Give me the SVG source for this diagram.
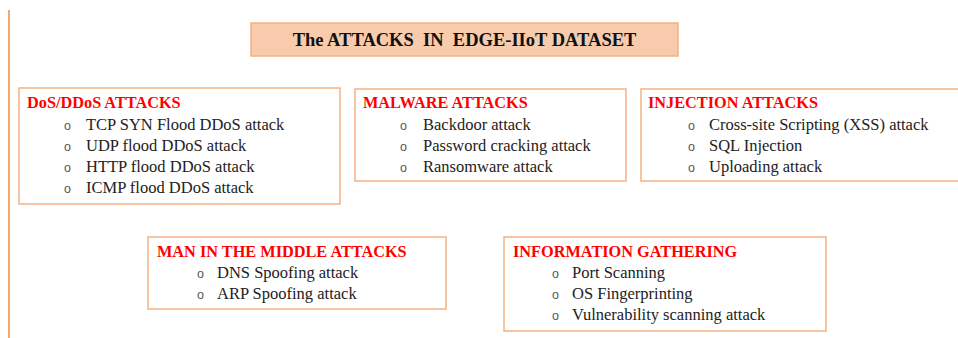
<svg xmlns="http://www.w3.org/2000/svg" width="958" height="338" viewBox="0 0 958 338">
<style>
.box{fill:#ffffff;stroke:#f4b183;stroke-width:1.5}
.title{font-family:"Liberation Serif",serif;font-weight:bold;font-size:18.5px;fill:#111;white-space:pre}
.hdr{font-family:"Liberation Serif",serif;font-weight:bold;font-size:16.3px;fill:#ff0000}
.item{font-family:"Liberation Serif",serif;font-size:16.5px;fill:#222}
.bul{font-family:"Liberation Sans",sans-serif;font-size:12.5px;fill:#555}
</style>
<rect width="958" height="338" fill="#ffffff"/>
<g id="connectors">
<line x1="9" y1="10" x2="9" y2="338" stroke="#f08a3c" stroke-width="1.5"/>
</g>
<g id="title">
<rect x="251" y="23" width="427" height="33" fill="#f8cbad" stroke="#f4b183" stroke-width="1.5"/>
<text class="title" x="464.5" y="45.5" text-anchor="middle" xml:space="preserve">The ATTACKS  IN  EDGE-IIoT DATASET</text>
</g>
<g id="dos">
<rect class="box" x="19" y="88" width="321" height="116"/>
<text class="hdr" x="27" y="108">DoS/DDoS ATTACKS</text>
<text class="bul" x="64" y="130">o</text><text class="item" x="86" y="130">TCP SYN Flood DDoS attack</text>
<text class="bul" x="64" y="151">o</text><text class="item" x="86" y="151">UDP flood  DDoS attack</text>
<text class="bul" x="64" y="172">o</text><text class="item" x="86" y="172">HTTP flood  DDoS attack</text>
<text class="bul" x="64" y="193">o</text><text class="item" x="86" y="193">ICMP flood  DDoS attack</text>
</g>
<g id="malware">
<rect class="box" x="355" y="89" width="271" height="92"/>
<text class="hdr" x="363" y="108">MALWARE ATTACKS</text>
<text class="bul" x="400" y="130">o</text><text class="item" x="423" y="130">Backdoor attack</text>
<text class="bul" x="400" y="151">o</text><text class="item" x="423" y="151">Password cracking attack</text>
<text class="bul" x="400" y="172">o</text><text class="item" x="423" y="172">Ransomware attack</text>
</g>
<g id="injection">
<rect class="box" x="641" y="89" width="330" height="92"/>
<text class="hdr" x="648" y="108">INJECTION ATTACKS</text>
<text class="bul" x="688" y="130">o</text><text class="item" x="709" y="130">Cross-site Scripting (XSS) attack</text>
<text class="bul" x="688" y="151">o</text><text class="item" x="709" y="151">SQL Injection</text>
<text class="bul" x="688" y="172">o</text><text class="item" x="709" y="172">Uploading attack</text>
</g>
<g id="mitm">
<rect class="box" x="148" y="237" width="298" height="72"/>
<text class="hdr" x="157" y="257">MAN IN THE MIDDLE ATTACKS</text>
<text class="bul" x="197" y="278">o</text><text class="item" x="217" y="278">DNS Spoofing attack</text>
<text class="bul" x="197" y="299">o</text><text class="item" x="217" y="299">ARP Spoofing attack</text>
</g>
<g id="infogathering">
<rect class="box" x="504" y="237" width="322" height="94"/>
<text class="hdr" x="513" y="257">INFORMATION GATHERING</text>
<text class="bul" x="552" y="278">o</text><text class="item" x="572" y="278">Port Scanning</text>
<text class="bul" x="552" y="299">o</text><text class="item" x="572" y="299">OS Fingerprinting</text>
<text class="bul" x="552" y="320">o</text><text class="item" x="572" y="320">Vulnerability scanning attack</text>
</g>
</svg>
